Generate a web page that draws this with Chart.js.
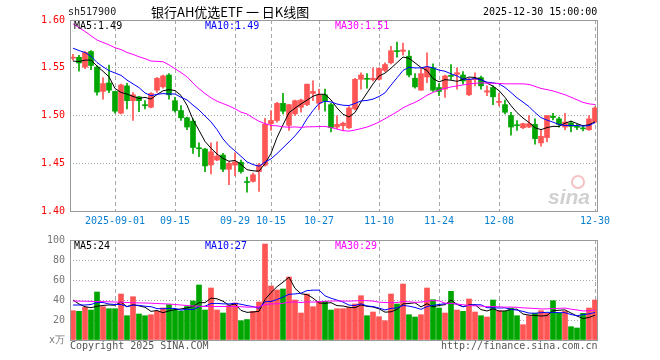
<!DOCTYPE html>
<html>
<head>
<meta charset="utf-8">
<script src="https://cdn.jsdelivr.net/npm/chart.js@4.4.1/dist/chart.umd.min.js"></script>
<style>
  body { margin: 0; background: #fff; }
  #wrap { position: relative; width: 660px; height: 360px; overflow: hidden; }
  canvas { position: absolute; left: 0; top: 0; }
  .t { position: absolute; white-space: nowrap; font: 10px 'DejaVu Sans Mono', monospace; line-height: 12px; }
</style>
</head>
<body>
<div id="wrap">
  <canvas id="kline" width="660" height="360"></canvas>
  <canvas id="vol" width="660" height="360"></canvas>

  <div class="t" style="left:68px;top:6px;color:#222;">sh517900</div>
  <div class="t" style="left:151px;top:3px;font:13px 'Noto Sans CJK SC',sans-serif;line-height:18px;color:#000;">银行AH优选ETF 一 日K线图</div>
  <div class="t" style="left:483px;top:6px;color:#000;">2025-12-30 15:00:00</div>

  <div class="t" style="left:74px;top:20px;color:#000;">MA5:1.49</div>
  <div class="t" style="left:205px;top:20px;color:#0000ff;">MA10:1.49</div>
  <div class="t" style="left:335px;top:20px;color:#ff00ff;">MA30:1.51</div>

  <div class="t" style="left:74px;top:240px;color:#000;">MA5:24</div>
  <div class="t" style="left:205px;top:240px;color:#0000ff;">MA10:27</div>
  <div class="t" style="left:335px;top:240px;color:#ff00ff;">MA30:29</div>

  <div class="t" style="left:70px;top:340px;color:#555;">Copyright 2025 SINA.COM</div>
  <div class="t" style="left:441px;top:340px;color:#555;">http://finance.sina.com.cn</div>
</div>

<script>
// -----------------------------
// Data
// -----------------------------
const dates = [
  "2025-08-21","2025-08-22","2025-08-25","2025-08-26","2025-08-27","2025-08-28","2025-08-29",
  "2025-09-01","2025-09-02","2025-09-03","2025-09-04","2025-09-05","2025-09-08","2025-09-09","2025-09-10","2025-09-11","2025-09-12",
  "2025-09-15","2025-09-16","2025-09-17","2025-09-18","2025-09-19","2025-09-22","2025-09-23","2025-09-24","2025-09-25","2025-09-26",
  "2025-09-29","2025-09-30","2025-10-09","2025-10-10","2025-10-13","2025-10-14","2025-10-15","2025-10-16","2025-10-17",
  "2025-10-20","2025-10-21","2025-10-22","2025-10-23","2025-10-24","2025-10-27","2025-10-28","2025-10-29","2025-10-30","2025-10-31",
  "2025-11-03","2025-11-04","2025-11-05","2025-11-06","2025-11-07","2025-11-10","2025-11-11","2025-11-12","2025-11-13","2025-11-14",
  "2025-11-17","2025-11-18","2025-11-19","2025-11-20","2025-11-21","2025-11-24","2025-11-25","2025-11-26","2025-11-27","2025-11-28",
  "2025-12-01","2025-12-02","2025-12-03","2025-12-04","2025-12-05","2025-12-08","2025-12-09","2025-12-10","2025-12-11","2025-12-12",
  "2025-12-15","2025-12-16","2025-12-17","2025-12-18","2025-12-19","2025-12-22","2025-12-23","2025-12-24","2025-12-25","2025-12-26",
  "2025-12-29","2025-12-30"
];

// tick labels shown under the price panel
const tickDates  = ["2025-09-01","2025-09-15","2025-09-29","2025-10-15","2025-10-27","2025-11-10","2025-11-24","2025-12-08","2025-12-30"];
const tickLabels = ["2025-09-01","09-15","09-29","10-15","10-27","11-10","11-24","12-08","12-30"];

const open = [
  1.560,1.561,1.5507,1.567,1.5507,1.5252,1.5341,1.5252,1.5024,1.531,
  1.5155,1.5196,1.511,1.5086,1.5265,1.530,1.5424,1.5155,1.5052,1.4976,
  1.4941,1.4658,1.4648,1.4482,1.4534,1.4586,1.4437,1.448,1.451,1.4302,
  1.431,1.4413,1.448,1.4914,1.4948,1.5127,1.4896,1.5017,1.5086,1.5114,
  1.5231,1.5127,1.5217,1.5114,1.4879,1.4893,1.4872,1.5069,1.5379,1.5382,
  1.5376,1.5379,1.5472,1.5552,1.5672,1.5672,1.5621,1.539,1.5265,1.5403,
  1.550,1.5293,1.5276,1.5416,1.5431,1.5424,1.5217,1.5376,1.5397,1.5245,
  1.5293,1.5138,1.5114,1.500,1.4898,1.4872,1.4879,1.4907,1.4713,1.4769,
  1.4993,1.4965,1.4879,1.4921,1.4882,1.4865,1.4851,1.4931
];
const high = [
  1.564,1.563,1.567,1.568,1.552,1.5397,1.5528,1.5252,1.5328,1.5338,
  1.5241,1.520,1.5155,1.5241,1.5397,1.5424,1.5438,1.519,1.5103,1.4983,
  1.4965,1.4713,1.4655,1.4713,1.4724,1.4603,1.4517,1.461,1.4534,1.4355,
  1.4396,1.450,1.497,1.5052,1.5138,1.5231,1.5114,1.5162,1.5172,1.5328,
  1.5362,1.5276,1.5276,1.5127,1.500,1.4931,1.5093,1.539,1.5448,1.5438,
  1.550,1.550,1.5552,1.5724,1.5769,1.5759,1.5679,1.5438,1.5493,1.5655,
  1.5541,1.5334,1.5424,1.5534,1.550,1.5459,1.539,1.5448,1.5414,1.531,
  1.531,1.5231,1.5162,1.5034,1.4948,1.492,1.500,1.4965,1.4845,1.500,
  1.5024,1.4983,1.5024,1.4941,1.4907,1.4886,1.500,1.5093
];
const low = [
  1.558,1.5465,1.549,1.548,1.5214,1.5172,1.5238,1.5024,1.5017,1.5069,
  1.4948,1.5041,1.5069,1.5079,1.5241,1.5286,1.5172,1.5034,1.4948,1.4851,
  1.4603,1.4569,1.4413,1.4389,1.4527,1.4413,1.4275,1.437,1.4396,1.4196,
  1.4303,1.4206,1.447,1.4845,1.493,1.5017,1.4845,1.500,1.5034,1.5103,
  1.5155,1.5058,1.5045,1.4827,1.4862,1.4845,1.4862,1.5058,1.5276,1.5286,
  1.5362,1.5369,1.5459,1.5541,1.561,1.5631,1.5403,1.5286,1.5265,1.5345,
  1.5252,1.5207,1.519,1.5379,1.5276,1.5328,1.5207,1.531,1.5276,1.5207,
  1.5114,1.5103,1.5017,1.4793,1.4845,1.4862,1.4872,1.470,1.4679,1.4724,
  1.4955,1.4879,1.4851,1.4827,1.4851,1.4838,1.4845,1.4921
];
const close = [
  1.561,1.555,1.566,1.5524,1.5245,1.5334,1.5265,1.5045,1.532,1.5155,
  1.5217,1.5155,1.5103,1.5231,1.539,1.5414,1.5217,1.5052,1.4976,1.4879,
  1.4665,1.4652,1.4472,1.462,1.4575,1.4437,1.450,1.4515,1.4413,1.4298,
  1.4379,1.4482,1.491,1.4948,1.5127,1.5045,1.5114,1.5155,1.5162,1.5328,
  1.5252,1.5217,1.5148,1.4872,1.4907,1.492,1.5079,1.5379,1.5424,1.5379,
  1.539,1.5493,1.5534,1.5679,1.5669,1.5686,1.5424,1.530,1.5438,1.5507,
  1.5265,1.5252,1.5414,1.541,1.5448,1.5362,1.5379,1.539,1.531,1.5259,
  1.5196,1.5148,1.5034,1.4879,1.4893,1.4914,1.4914,1.4758,1.4782,1.500,
  1.4979,1.4907,1.4931,1.4886,1.4876,1.486,1.4965,1.5079
];
// volume, 万
const volume = [
  29.3,28.7,32.7,30,48,33.3,31.3,31.3,46,24.3,
  43.3,26,24.3,25.3,28.7,32,35.3,30.5,29,33.5,
  39,55,30,52,30,27,34.5,37,19.3,20.5,
  28.7,38,96,54,50,51,63,40,27,46,
  33.3,38.7,38.7,30,31.3,31.3,32.5,36,44.3,24.3,
  28,23.3,19.3,46,36,56,25.3,23,25.3,52,
  40.3,32,27,48.7,30,28.7,41,28,24.3,23,
  40,29.3,28.7,32,24.3,15.3,24.3,26.7,29.3,26.7,
  39.3,26.7,28.7,13.3,12,26.7,32,40
];

// moving-average values before enough visible days exist
const ma5Head  = [1.557,1.5565,1.558,1.558];
const ma10Head = [1.5705,1.568,1.566,1.562,1.5555,1.551,1.547,1.5445,1.542];
const ma30Head = [1.596,1.592,1.588,1.5835,1.579,1.5765,1.574,1.571,1.569,1.566,
                  1.564,1.5615,1.5595,1.557,1.5567,1.5563,1.553,1.549,1.545,1.5405,
                  1.534,1.528,1.523,1.5185,1.515,1.5125,1.510,1.507,1.5035];
const volMa5Head  = [40,36,33.3,32.3];
const volMa10Head = [35,35,35,35.5,37.5,37.5,36,35.5,35.5];
const volMa30Head = [39,38.9,38.8,38.6,38.5,38.4,38.2,38,37.8,37.5,
                     37.3,37.1,37,36.8,36.5,36.2,36,35.5,35,34.5,
                     34,33.8,33.5,33.5,33.5,33.5,33.5,33.4,33.3];

// -----------------------------
// Helpers
// -----------------------------
const RED = "#ff5555";
const GREEN = "#00a600";
const GRID = "#a8a8a8";
const MONO = "'DejaVu Sans Mono', monospace";

function movingAvg(src, n, head) {
    return src.map((v, i) => {
        if (i < n - 1) return head[i];
        let s = 0;
        for (let k = i - n + 1; k <= i; k++) s += src[k];
        return s / n;
    });
}

const candleColors = close.map((c, i) => c >= open[i] ? RED : GREEN);
const tickIndex = {};
tickDates.forEach((d, k) => { tickIndex[dates.indexOf(d)] = tickLabels[k]; });

Chart.defaults.font.family = MONO;
Chart.defaults.font.size = 10;

// box round the plot area + sina mark
const frame = {
    id: "frame",
    afterDraw(chart, args, opts) {
        const a = chart.chartArea, g = chart.ctx;
        g.save();
        if (opts.logo) {
            g.font = "italic bold 21px 'Liberation Sans', sans-serif";
            g.fillStyle = "rgba(150,150,150,0.45)";
            g.fillText("sina", 548, 204);
            g.beginPath();
            g.arc(578, 182, 6, 0, Math.PI * 2);
            g.strokeStyle = "rgba(230,120,120,0.45)";
            g.lineWidth = 2;
            g.stroke();
        }
        g.strokeStyle = "#999";
        g.lineWidth = 1;
        g.strokeRect(Math.round(a.left) + 0.5, Math.round(a.top) + 0.5,
                     Math.round(a.right - a.left) - 1, Math.round(a.bottom - a.top));
        g.restore();
    }
};

function xScale(showTicks, h) {
    return {
        offset: true,
        grid: {
            offset: false,
            drawTicks: false,
            color: ctx => (tickIndex[ctx.index] !== undefined ? GRID : "rgba(0,0,0,0)")
        },
        border: { display: false, dash: [4, 3] },
        ticks: {
            display: showTicks,
            autoSkip: false,
            maxRotation: 0,
            padding: 4,
            color: "#0a7fd0",
            callback: (v, i) => tickIndex[i] || ""
        },
        afterFit: s => { s.height = h; }
    };
}

function lineSet(data, color) {
    return { type: "line", data, borderColor: color, borderWidth: 1, pointRadius: 0, tension: 0, order: 0 };
}

// -----------------------------
// Price panel
// -----------------------------
new Chart(document.getElementById("kline"), {
    data: {
        labels: dates,
        datasets: [
            { type: "bar", data: dates.map((d, i) => [low[i], high[i]]), backgroundColor: candleColors,
              barThickness: 1, grouped: false, order: 3 },
            { type: "bar", data: dates.map((d, i) => [open[i], close[i]]), backgroundColor: candleColors,
              barThickness: 5, minBarLength: 1, grouped: false, order: 2 },
            lineSet(movingAvg(close, 30, ma30Head), "#ff00ff"),
            lineSet(movingAvg(close, 10, ma10Head), "#0000ff"),
            lineSet(movingAvg(close, 5, ma5Head), "#000000")
        ]
    },
    options: {
        responsive: false,
        animation: false,
        layout: { padding: { top: 20, right: 62, left: 0, bottom: 0 } },
        plugins: { legend: { display: false }, tooltip: { enabled: false }, frame: { logo: true } },
        scales: {
            x: xScale(true, 149),
            y: {
                min: 1.40, max: 1.60,
                grid: {
                    drawTicks: false,
                    color: ctx => (ctx.index === 0 || ctx.index === 4 ? "rgba(0,0,0,0)" : GRID)
                },
                border: { display: false, dash: [1, 2] },
                ticks: { stepSize: 0.05, padding: 5, color: "#ff0000", callback: v => v.toFixed(2) },
                afterFit: s => { s.width = 70; }
            }
        }
    },
    plugins: [frame]
});

// -----------------------------
// Volume panel
// -----------------------------
new Chart(document.getElementById("vol"), {
    data: {
        labels: dates,
        datasets: [
            { type: "bar", data: volume, backgroundColor: candleColors, barThickness: 5, order: 2 },
            lineSet(movingAvg(volume, 30, volMa30Head), "#ff00ff"),
            lineSet(movingAvg(volume, 10, volMa10Head), "#0000ff"),
            lineSet(movingAvg(volume, 5, volMa5Head), "#000000")
        ]
    },
    options: {
        responsive: false,
        animation: false,
        layout: { padding: { top: 240, right: 62, left: 0, bottom: 0 } },
        plugins: { legend: { display: false }, tooltip: { enabled: false }, frame: { logo: false } },
        scales: {
            x: xScale(false, 20),
            y: {
                min: 0, max: 100,
                grid: {
                    drawTicks: false,
                    color: ctx => (ctx.index === 0 || ctx.index === 5 ? "rgba(0,0,0,0)" : GRID)
                },
                border: { display: false, dash: [1, 2] },
                ticks: { stepSize: 20, padding: 5, color: "#777", callback: v => (v === 0 ? "x万" : v) },
                afterFit: s => { s.width = 70; }
            }
        }
    },
    plugins: [frame]
});
</script>
</body>
</html>
